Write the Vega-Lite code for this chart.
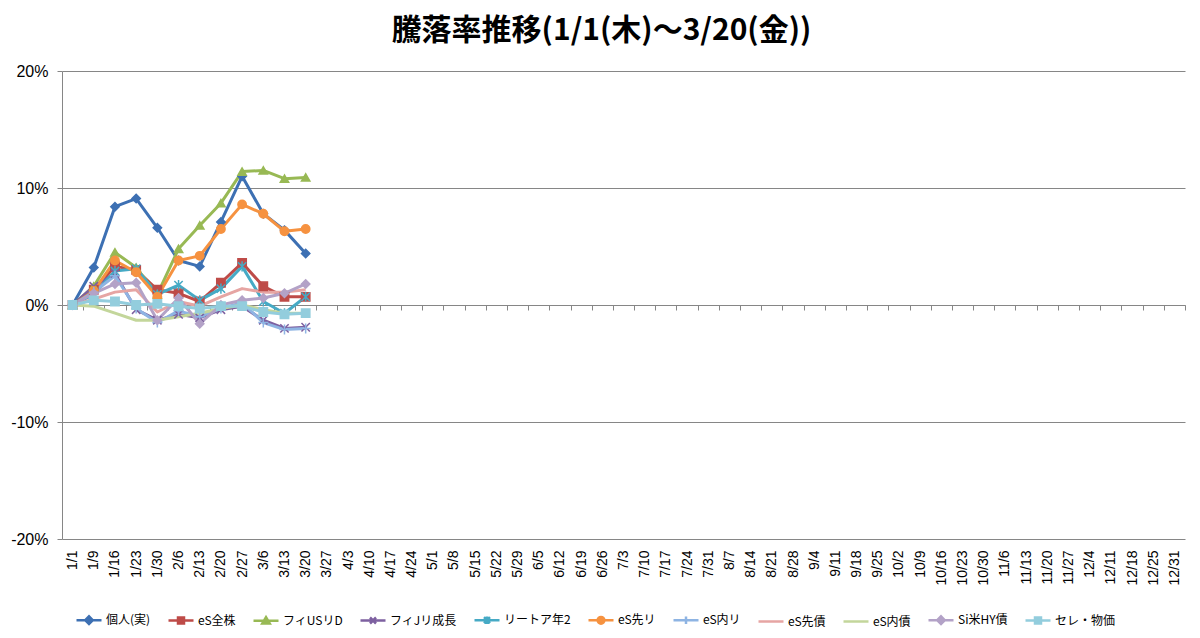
{
"$schema": "https://vega.github.io/schema/vega-lite/v6.json",
"width": 1123,
"height": 468,
"autosize": {"type": "none"},
"padding": {"left": 62, "top": 71, "right": 15, "bottom": 99},
"background": "white",
"title": {"text": "騰落率推移(1/1(木)～3/20(金))", "font": "Noto Sans CJK JP", "fontSize": 30, "fontWeight": "bold", "color": "#000000", "anchor": "middle", "dx": -22, "offset": 17},
"data": {"values": [
{"d":"1/1","s":"個人(実)","v":0},{"d":"1/9","s":"個人(実)","v":3.2},{"d":"1/16","s":"個人(実)","v":8.4},{"d":"1/23","s":"個人(実)","v":9.1},{"d":"1/30","s":"個人(実)","v":6.6},{"d":"2/6","s":"個人(実)","v":3.8},{"d":"2/13","s":"個人(実)","v":3.3},{"d":"2/20","s":"個人(実)","v":7.1},{"d":"2/27","s":"個人(実)","v":11.0},{"d":"3/6","s":"個人(実)","v":7.8},{"d":"3/13","s":"個人(実)","v":6.4},{"d":"3/20","s":"個人(実)","v":4.4},
{"d":"1/1","s":"eS全株","v":0},{"d":"1/9","s":"eS全株","v":1.3},{"d":"1/16","s":"eS全株","v":3.3},{"d":"1/23","s":"eS全株","v":3.0},{"d":"1/30","s":"eS全株","v":1.3},{"d":"2/6","s":"eS全株","v":1.0},{"d":"2/13","s":"eS全株","v":0.3},{"d":"2/20","s":"eS全株","v":1.9},{"d":"2/27","s":"eS全株","v":3.6},{"d":"3/6","s":"eS全株","v":1.6},{"d":"3/13","s":"eS全株","v":0.7},{"d":"3/20","s":"eS全株","v":0.7},
{"d":"1/1","s":"フィUSリD","v":0},{"d":"1/9","s":"フィUSリD","v":1.6},{"d":"1/16","s":"フィUSリD","v":4.5},{"d":"1/23","s":"フィUSリD","v":3.2},{"d":"1/30","s":"フィUSリD","v":0.9},{"d":"2/6","s":"フィUSリD","v":4.8},{"d":"2/13","s":"フィUSリD","v":6.8},{"d":"2/20","s":"フィUSリD","v":8.7},{"d":"2/27","s":"フィUSリD","v":11.4},{"d":"3/6","s":"フィUSリD","v":11.5},{"d":"3/13","s":"フィUSリD","v":10.8},{"d":"3/20","s":"フィUSリD","v":10.9},
{"d":"1/1","s":"フィJリ成長","v":0},{"d":"1/9","s":"フィJリ成長","v":1.6},{"d":"1/16","s":"フィJリ成長","v":2.7},{"d":"1/23","s":"フィJリ成長","v":-0.4},{"d":"1/30","s":"フィJリ成長","v":-1.3},{"d":"2/6","s":"フィJリ成長","v":-0.8},{"d":"2/13","s":"フィJリ成長","v":-1.1},{"d":"2/20","s":"フィJリ成長","v":-0.4},{"d":"2/27","s":"フィJリ成長","v":-0.1},{"d":"3/6","s":"フィJリ成長","v":-1.3},{"d":"3/13","s":"フィJリ成長","v":-2.0},{"d":"3/20","s":"フィJリ成長","v":-1.9},
{"d":"1/1","s":"リートア年2","v":0},{"d":"1/9","s":"リートア年2","v":0.9},{"d":"1/16","s":"リートア年2","v":2.9},{"d":"1/23","s":"リートア年2","v":3.1},{"d":"1/30","s":"リートア年2","v":0.9},{"d":"2/6","s":"リートア年2","v":1.7},{"d":"2/13","s":"リートア年2","v":0.4},{"d":"2/20","s":"リートア年2","v":1.4},{"d":"2/27","s":"リートア年2","v":3.3},{"d":"3/6","s":"リートア年2","v":0.3},{"d":"3/13","s":"リートア年2","v":-0.7},{"d":"3/20","s":"リートア年2","v":0.7},
{"d":"1/1","s":"eS先リ","v":0},{"d":"1/9","s":"eS先リ","v":1.2},{"d":"1/16","s":"eS先リ","v":3.8},{"d":"1/23","s":"eS先リ","v":2.8},{"d":"1/30","s":"eS先リ","v":0.7},{"d":"2/6","s":"eS先リ","v":3.8},{"d":"2/13","s":"eS先リ","v":4.2},{"d":"2/20","s":"eS先リ","v":6.5},{"d":"2/27","s":"eS先リ","v":8.6},{"d":"3/6","s":"eS先リ","v":7.8},{"d":"3/13","s":"eS先リ","v":6.3},{"d":"3/20","s":"eS先リ","v":6.5},
{"d":"1/1","s":"eS内リ","v":0},{"d":"1/9","s":"eS内リ","v":1.1},{"d":"1/16","s":"eS内リ","v":2.5},{"d":"1/23","s":"eS内リ","v":-0.3},{"d":"1/30","s":"eS内リ","v":-1.5},{"d":"2/6","s":"eS内リ","v":-0.5},{"d":"2/13","s":"eS内リ","v":-1.0},{"d":"2/20","s":"eS内リ","v":-0.3},{"d":"2/27","s":"eS内リ","v":0.2},{"d":"3/6","s":"eS内リ","v":-1.5},{"d":"3/13","s":"eS内リ","v":-2.1},{"d":"3/20","s":"eS内リ","v":-2.0},
{"d":"1/1","s":"eS先債","v":0},{"d":"1/9","s":"eS先債","v":0.5},{"d":"1/16","s":"eS先債","v":1.1},{"d":"1/23","s":"eS先債","v":1.3},{"d":"1/30","s":"eS先債","v":-0.6},{"d":"2/6","s":"eS先債","v":0.3},{"d":"2/13","s":"eS先債","v":-0.1},{"d":"2/20","s":"eS先債","v":0.7},{"d":"2/27","s":"eS先債","v":1.4},{"d":"3/6","s":"eS先債","v":1.1},{"d":"3/13","s":"eS先債","v":1.1},{"d":"3/20","s":"eS先債","v":1.3},
{"d":"1/1","s":"eS内債","v":0},{"d":"1/9","s":"eS内債","v":-0.1},{"d":"1/16","s":"eS内債","v":-0.7},{"d":"1/23","s":"eS内債","v":-1.3},{"d":"1/30","s":"eS内債","v":-1.3},{"d":"2/6","s":"eS内債","v":-1.0},{"d":"2/13","s":"eS内債","v":-0.7},{"d":"2/20","s":"eS内債","v":-0.3},{"d":"2/27","s":"eS内債","v":0.0},{"d":"3/6","s":"eS内債","v":-0.4},{"d":"3/13","s":"eS内債","v":-0.7},{"d":"3/20","s":"eS内債","v":-0.7},
{"d":"1/1","s":"Si米HY債","v":0},{"d":"1/9","s":"Si米HY債","v":1.0},{"d":"1/16","s":"Si米HY債","v":1.8},{"d":"1/23","s":"Si米HY債","v":1.9},{"d":"1/30","s":"Si米HY債","v":-1.3},{"d":"2/6","s":"Si米HY債","v":0.6},{"d":"2/13","s":"Si米HY債","v":-1.6},{"d":"2/20","s":"Si米HY債","v":0.0},{"d":"2/27","s":"Si米HY債","v":0.4},{"d":"3/6","s":"Si米HY債","v":0.6},{"d":"3/13","s":"Si米HY債","v":1.0},{"d":"3/20","s":"Si米HY債","v":1.8},
{"d":"1/1","s":"セレ・物価","v":0},{"d":"1/9","s":"セレ・物価","v":0.4},{"d":"1/16","s":"セレ・物価","v":0.3},{"d":"1/23","s":"セレ・物価","v":0.0},{"d":"1/30","s":"セレ・物価","v":0.1},{"d":"2/6","s":"セレ・物価","v":-0.1},{"d":"2/13","s":"セレ・物価","v":-0.3},{"d":"2/20","s":"セレ・物価","v":-0.1},{"d":"2/27","s":"セレ・物価","v":-0.1},{"d":"3/6","s":"セレ・物価","v":-0.6},{"d":"3/13","s":"セレ・物価","v":-0.8},{"d":"3/20","s":"セレ・物価","v":-0.7}
]},
"encoding": {
  "x": {"field": "d", "type": "ordinal",
    "sort": ["1/1","1/9","1/16","1/23","1/30","2/6","2/13","2/20","2/27","3/6","3/13","3/20","3/27","4/3","4/10","4/17","4/24","5/1","5/8","5/15","5/22","5/29","6/5","6/12","6/19","6/26","7/3","7/10","7/17","7/24","7/31","8/7","8/14","8/21","8/28","9/4","9/11","9/18","9/25","10/2","10/9","10/16","10/23","10/30","11/6","11/13","11/20","11/27","12/4","12/11","12/18","12/25","12/31"],
    "scale": {"type": "band", "paddingInner": 0, "paddingOuter": 0,
      "domain": ["1/1","1/9","1/16","1/23","1/30","2/6","2/13","2/20","2/27","3/6","3/13","3/20","3/27","4/3","4/10","4/17","4/24","5/1","5/8","5/15","5/22","5/29","6/5","6/12","6/19","6/26","7/3","7/10","7/17","7/24","7/31","8/7","8/14","8/21","8/28","9/4","9/11","9/18","9/25","10/2","10/9","10/16","10/23","10/30","11/6","11/13","11/20","11/27","12/4","12/11","12/18","12/25","12/31"]},
    "axis": {"title": null, "labelAngle": 270, "labelFont": "Liberation Sans", "labelFontSize": 14, "labelColor": "#000000", "offset": -234, "domainColor": "#868686", "domainWidth": 1, "tickColor": "#868686", "tickSize": 5, "tickWidth": 1, "tickBand": "extent", "labelPadding": 240, "grid": false, "labelOverlap": false, "labelBound": false, "zindex": 0}
  },
  "y": {"field": "v", "type": "quantitative",
    "scale": {"domain": [-20, 20], "nice": false, "zero": false},
    "axis": {"title": null, "values": [-20, -10, 0, 10, 20], "labelExpr": "datum.value + '%'", "labelFont": "Liberation Sans", "labelFontSize": 16, "labelColor": "#000000", "labelPadding": 9, "domainColor": "#868686", "domainWidth": 1, "tickColor": "#868686", "tickSize": 5, "tickWidth": 1, "grid": true, "gridColor": "#868686", "gridWidth": 1, "zindex": 0}
  },
  "color": {"field": "s", "type": "nominal",
    "scale": {"domain": ["個人(実)","eS全株","フィUSリD","フィJリ成長","リートア年2","eS先リ","eS内リ","eS先債","eS内債","Si米HY債","セレ・物価"],
      "range": ["#3D70B3","#BE4B48","#98B954","#7D60A0","#46AAC5","#F69240","#8EB4E3","#E6A5A3","#C3D69B","#B3A2C7","#93CDDD"]},
    "legend": {"title": null, "orient": "none", "legendX": 13, "legendY": 535, "direction": "horizontal", "columns": 11, "columnPadding": 12, "labelFont": "Noto Sans CJK JP", "labelFontSize": 12, "labelColor": "#000000", "symbolSize": 625, "symbolStrokeWidth": 2.5, "labelOffset": 3,
      "encode": {"symbols": {"update": {
        "shape": {"signal": "['M-1,0L1,0M-0.3,0L0,-0.3L0.3,0L0,0.3Z','M-1,0L1,0M-0.24,-0.24L0.24,-0.24L0.24,0.24L-0.24,0.24Z','M-1,0L1,0M0,-0.28L0.3,0.22L-0.3,0.22Z','M-1,0L1,0M-0.24,-0.24L0.24,0.24M-0.24,0.24L0.24,-0.24','M-1,0L1,0M-0.24,-0.24L0.24,0.24M-0.24,0.24L0.24,-0.24M0,-0.3L0,0.3','M-1,0L1,0M0.27,0A0.27,0.27 0 1,1 -0.27,0A0.27,0.27 0 1,1 0.27,0Z','M-1,0L1,0M0,-0.3L0,0.3','M-1,0L1,0','M-1,0L1,0','M-1,0L1,0M-0.3,0L0,-0.3L0.3,0L0,0.3Z','M-1,0L1,0M-0.24,-0.24L0.24,-0.24L0.24,0.24L-0.24,0.24Z'][indexof(['個人(実)','eS全株','フィUSリD','フィJリ成長','リートア年2','eS先リ','eS内リ','eS先債','eS内債','Si米HY債','セレ・物価'], datum.value)]"},
        "fill": {"signal": "scale('color', datum.value)"},
        "stroke": {"signal": "scale('color', datum.value)"},
        "strokeWidth": {"value": 2.5},
        "opacity": {"value": 1}
      }}}
    }
  }
},
"layer": [
  {"mark": {"type": "line", "strokeWidth": 3, "strokeJoin": "round"}},
  {"transform": [{"filter": "datum.s !== 'eS先債' && datum.s !== 'eS内債'"}],
   "mark": {"type": "point", "filled": true, "size": 70, "strokeWidth": 1.5, "opacity": 1},
   "encoding": {
     "shape": {"field": "s", "type": "nominal", "legend": null,
       "scale": {"domain": ["個人(実)","eS全株","フィUSリD","フィJリ成長","リートア年2","eS先リ","eS内リ","Si米HY債","セレ・物価"],
         "range": ["diamond","square","triangle-up","M-1,-1L1,1M-1,1L1,-1","M-1,-1L1,1M-1,1L1,-1M0,-1.2L0,1.2","circle","M-1.2,0L1.2,0M0,-1.2L0,1.2","diamond","square"]}},
     "stroke": {"field": "s", "type": "nominal", "legend": null,
       "scale": {"domain": ["個人(実)","eS全株","フィUSリD","フィJリ成長","リートア年2","eS先リ","eS内リ","eS先債","eS内債","Si米HY債","セレ・物価"],
         "range": ["#3D70B3","#BE4B48","#98B954","#7D60A0","#46AAC5","#F69240","#8EB4E3","#E6A5A3","#C3D69B","#B3A2C7","#93CDDD"]}}
   }}
],
"config": {"view": {"stroke": null}}
}
